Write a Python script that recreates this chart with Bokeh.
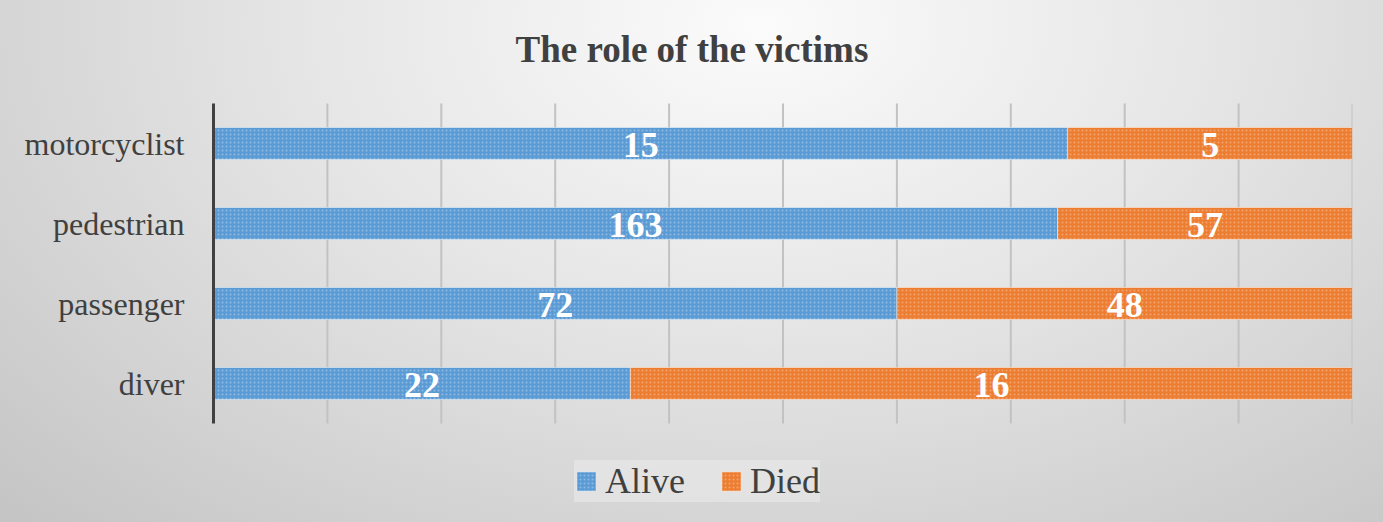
from bokeh.plotting import figure
from bokeh.models import FixedTicker, Range1d, Legend, LegendItem, ColumnDataSource, Label
from bokeh.core.properties import value
from bokeh.embed import file_html
from bokeh.resources import INLINE

# ---- data ----
roles = ["diver", "passenger", "pedestrian", "motorcyclist"]
alive_counts = [22, 72, 163, 15]
died_counts = [16, 48, 57, 5]
# shares (percent of bar length)
alive_share = [36.6, 60.0, 74.1, 75.0]
died_share = [63.4, 40.0, 25.9, 25.0]
series = ["Alive", "Died"]
colors = ["#5b9bd5", "#ed7d31"]
grid_ticks = [0, 10, 20, 30, 40, 50, 60, 70, 80, 90, 100]
title_text = "The role of the victims"

SERIF = "Liberation Serif"
pos = list(range(len(roles)))          # category positions (diver at bottom)
cat_lo, cat_hi = -0.5, len(roles) - 0.5

p = figure(width=1383, height=522, x_range=Range1d(0, 100),
           y_range=Range1d(cat_lo - 1.1875, cat_hi + 1.2875),
           x_axis_location=None, title=None,
           output_backend="svg", toolbar_location=None,
           min_border_left=213, min_border_right=31, min_border_top=0, min_border_bottom=4)
p.border_fill_color = None
p.background_fill_color = None
p.outline_line_color = None
p.styles = {"background": "radial-gradient(ellipse farthest-corner at 55% 5%, #fbfbfb 0%, #e6e6e6 42%, #c4c4c4 100%)"}
p.grid.visible = False

# title (inside the extended frame, above the category area)
p.add_layout(Label(x=42.0, y=cat_hi + 0.675, text=title_text, text_align="center",
                   text_baseline="alphabetic", text_font=SERIF, text_font_style="bold",
                   text_font_size="37px", text_color="#404040"))

# vertical gridlines over the category area only
p.segment(x0=grid_ticks, y0=cat_lo, x1=grid_ticks, y1=cat_hi,
          line_color="#c2c2c2", line_width=2)

src = ColumnDataSource(dict(pos=pos, Alive=alive_share, Died=died_share))
rs = p.hbar_stack(series, y="pos", height=0.4, color=colors, source=src,
                  line_color="white", line_alpha=0.45, line_width=1,
                  hatch_pattern="dot", hatch_color="white", hatch_alpha=0.3,
                  hatch_scale=4, hatch_weight=1)

# data labels
alive_mid = [a / 2 for a in alive_share]
died_mid = [a + d / 2 for a, d in zip(alive_share, died_share)]
lab = ColumnDataSource(dict(
    x=alive_mid + died_mid,
    y=pos + pos,
    t=[str(v) for v in alive_counts] + [str(v) for v in died_counts],
))
p.text(x="x", y="y", text="t", source=lab, text_align="center", text_baseline="middle",
       text_font=value(SERIF), text_font_style="bold", text_font_size="36px",
       text_color="white", y_offset=1)

# y axis
ya = p.yaxis[0]
ya.ticker = FixedTicker(ticks=pos)
ya.major_label_overrides = {i: r for i, r in zip(pos, roles)}
ya.bounds = (cat_lo, cat_hi)
ya.axis_line_color = "#404040"
ya.axis_line_width = 3
ya.major_tick_line_color = None
ya.minor_tick_line_color = None
ya.major_tick_out = 0
ya.major_tick_in = 0
ya.major_label_standoff = 29
ya.major_label_text_font = SERIF
ya.major_label_text_font_size = "32px"
ya.major_label_text_color = "#404040"

# legend
legend = Legend(items=[LegendItem(label=s, renderers=[r]) for s, r in zip(series, rs)],
                orientation="horizontal", location=(361, 16),
                glyph_width=24, glyph_height=24, label_standoff=7, spacing=34,
                padding=23, margin=0,
                label_text_font=SERIF, label_text_font_size="36px", label_text_color="#404040",
                border_line_color=None, background_fill_color="#ededed", background_fill_alpha=0.5)
p.add_layout(legend, "center")

open("out.html", "w").write(file_html(p, INLINE))
